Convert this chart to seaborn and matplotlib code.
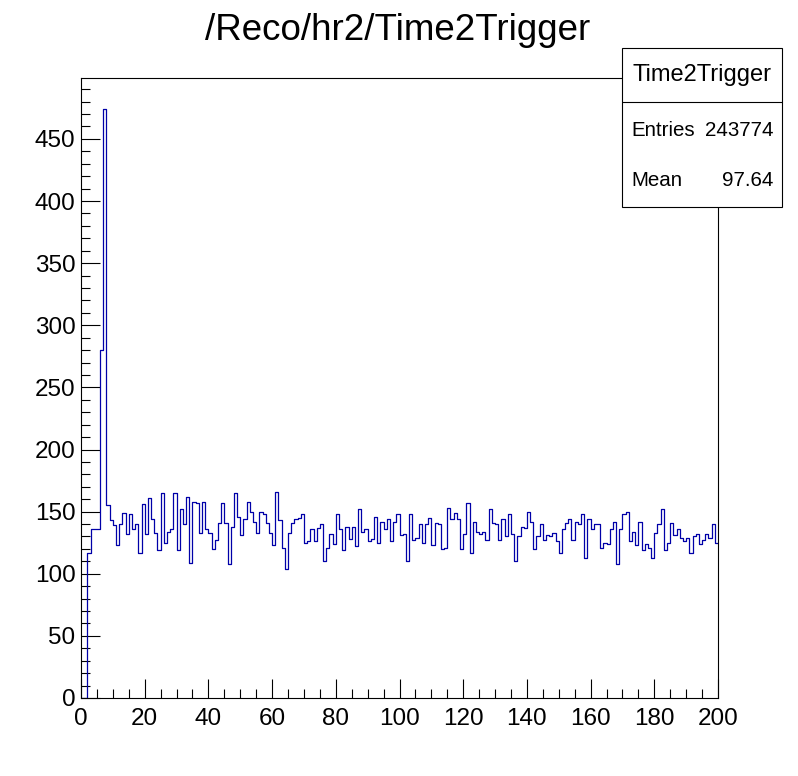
import numpy as np
import pandas as pd
import seaborn as sns
import matplotlib.pyplot as plt
from matplotlib.patches import Rectangle
from matplotlib.lines import Line2D
from matplotlib.ticker import MultipleLocator

# bin contents of Time2Trigger, 200 bins of width 1 from 0 to 200
counts = [
    0, 0, 117, 136, 136, 136, 280, 474, 155, 143,
    139, 123, 140, 149, 132, 148, 136, 140, 117, 156,
    132, 161, 144, 133, 119, 165, 125, 134, 136, 165,
    119, 152, 140, 162, 109, 158, 157, 133, 158, 136,
    133, 120, 127, 141, 157, 141, 108, 138, 165, 146,
    131, 144, 158, 150, 142, 133, 150, 148, 141, 133,
    123, 166, 143, 121, 104, 133, 141, 144, 145, 148,
    125, 126, 136, 126, 137, 140, 110, 121, 132, 124,
    148, 136, 119, 138, 128, 138, 122, 152, 134, 136,
    126, 128, 146, 125, 142, 136, 144, 126, 142, 148,
    131, 132, 110, 148, 127, 129, 140, 125, 140, 145,
    123, 141, 140, 120, 121, 153, 144, 149, 144, 120,
    132, 157, 117, 142, 134, 132, 134, 127, 152, 141,
    140, 127, 144, 130, 148, 132, 110, 130, 138, 137,
    150, 142, 120, 130, 140, 127, 131, 130, 133, 126,
    117, 136, 141, 144, 127, 142, 140, 148, 113, 144,
    136, 140, 140, 121, 125, 124, 136, 142, 108, 136,
    148, 150, 126, 134, 123, 142, 119, 124, 121, 113,
    133, 140, 152, 119, 125, 141, 131, 136, 129, 126,
    129, 117, 130, 132, 124, 127, 132, 129, 140, 125,
]
bin_centers = np.arange(200) + 0.5

title = "/Reco/hr2/Time2Trigger"
stats_name = "Time2Trigger"
stats_rows = [("Entries", "243774"), ("Mean", "97.64")]

sns.set_style("white")
plt.rcParams['font.family'] = ['Liberation Sans', 'DejaVu Sans']
plt.rcParams['text.color'] = 'black'
plt.rcParams['xtick.color'] = 'black'
plt.rcParams['ytick.color'] = 'black'
plt.rcParams['axes.labelcolor'] = 'black'

W, H = 798, 776
fig = plt.figure(figsize=(W / 100, H / 100), dpi=100)
ax = fig.add_axes([81 / W, 1 - 698 / H, 637 / W, 620 / H])

df = pd.DataFrame({"time": bin_centers, "count": counts})
sns.histplot(data=df, x="time", weights="count", binwidth=1, binrange=(0, 200),
             element="step", fill=False, color="#0000a8", linewidth=0.9, ax=ax)

ax.set_xlim(0, 200)
ax.set_ylim(0, 499)
ax.set_xlabel("")
ax.set_ylabel("")
ax.xaxis.set_major_locator(MultipleLocator(20))
ax.xaxis.set_minor_locator(MultipleLocator(5))
ax.yaxis.set_major_locator(MultipleLocator(50))
ax.yaxis.set_minor_locator(MultipleLocator(10))
ax.tick_params(which="both", direction="in", bottom=True, left=True,
               top=False, right=False, color="black", labelcolor="black", width=0.8)
ax.tick_params(which="major", length=13.5, labelsize=17.5)
ax.tick_params(which="minor", length=6.8)
ax.tick_params(axis="x", which="major", pad=7)
ax.tick_params(axis="y", which="major", pad=4)
for s in ax.spines.values():
    s.set_color("black")
    s.set_linewidth(0.8)

fig.text(0.498, 1 - 40 / H, title, ha="center", va="baseline", fontsize=26.5,
         color="black")

# stats box
bx0, bx1, by0, by1 = 622, 782, 48, 207
fig.add_artist(Rectangle((bx0 / W, 1 - by1 / H), (bx1 - bx0) / W, (by1 - by0) / H,
                         transform=fig.transFigure, facecolor="white",
                         edgecolor="black", linewidth=0.8, zorder=5))
fig.add_artist(Line2D([bx0 / W, bx1 / W], [1 - 102 / H, 1 - 102 / H],
                      transform=fig.transFigure, color="black", linewidth=0.8, zorder=6))
fig.text((bx0 + bx1) / 2 / W, 1 - 75 / H, stats_name, ha="center", va="center",
         fontsize=17, color="black", zorder=7)
for (name, val), yy in zip(stats_rows, [130, 181]):
    fig.text(631 / W, 1 - yy / H, name, ha="left", va="center", fontsize=14.8,
             color="black", zorder=7)
    fig.text(773 / W, 1 - yy / H, val, ha="right", va="center", fontsize=14.8,
             color="black", zorder=7)

fig.savefig("out.png", dpi=100)
